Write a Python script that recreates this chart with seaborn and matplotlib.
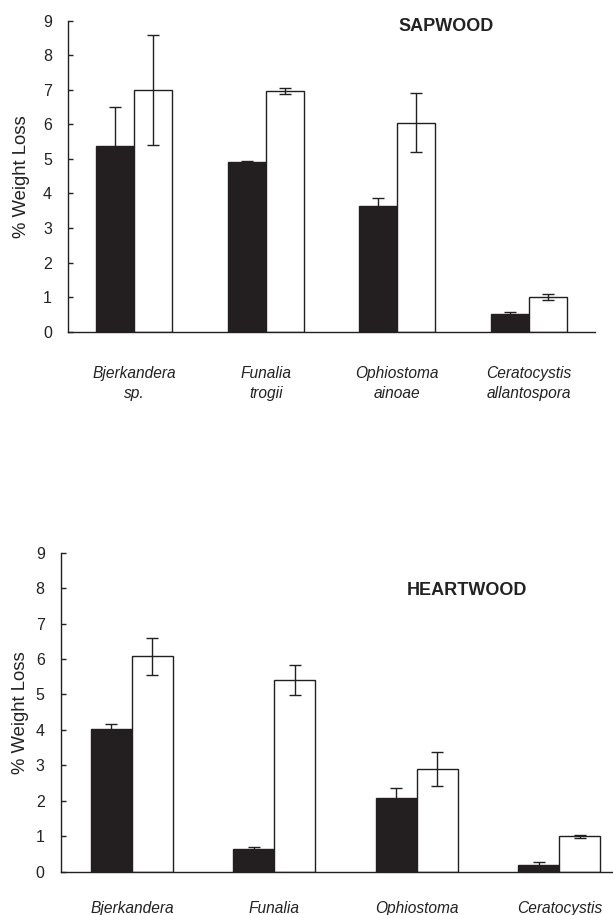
import numpy as np
import pandas as pd
import matplotlib
matplotlib.use("Agg")
import matplotlib.pyplot as plt
import seaborn as sns

# ---- data ----
species = ["Bjerkandera", "Funalia", "Ophiostoma", "Ceratocystis"]
sap_labels = ["Bjerkandera\nsp.", "Funalia\ntrogii", "Ophiostoma\nainoae", "Ceratocystis\nallantospora"]
heart_labels = ["Bjerkandera", "Funalia", "Ophiostoma", "Ceratocystis"]
series = ["Series 1", "Series 2"]

sap_dark = [5.37, 4.90, 3.65, 0.51]
sap_dark_err = [1.14, 0.03, 0.22, 0.07]
sap_white = [6.99, 6.97, 6.05, 1.00]
sap_white_err = [1.59, 0.09, 0.85, 0.08]

heart_dark = [4.03, 0.65, 2.09, 0.20]
heart_dark_err = [0.14, 0.06, 0.28, 0.07]
heart_white = [6.08, 5.41, 2.89, 1.00]
heart_white_err = [0.52, 0.42, 0.48, 0.04]

yticks = list(range(10))

DARK = "#231f20"

sns.set_theme(style="ticks")
plt.rcParams["font.family"] = ["Liberation Sans", "DejaVu Sans"]

fig = plt.figure(figsize=(6.13, 9.15), dpi=100)
ax_top = fig.add_axes([68 / 613, 1 - 331.7 / 915, 527 / 613, 311.0 / 915])
ax_bot = fig.add_axes([60.7 / 613, 1 - 871.7 / 915, (613 - 60.7) / 613, 319.0 / 915])


def draw(ax, dark, dark_err, white, white_err, labels, title, title_x, title_y,
         xpad, xlim, ylab_x):
    df = pd.DataFrame({
        "species": species * 2,
        "series": [series[0]] * 4 + [series[1]] * 4,
        "value": dark + white,
    })
    sns.barplot(data=df, x="species", y="value", hue="series",
                order=species, hue_order=series,
                palette=[DARK, "white"], saturation=1, width=0.575,
                errorbar=None, edgecolor=DARK, linewidth=1.0,
                legend=False, ax=ax)
    conts = list(ax.containers)[:2]
    for cont, errs in zip(conts, [dark_err, white_err]):
        for bar, e in zip(cont, errs):
            ax.errorbar(bar.get_x() + bar.get_width() / 2, bar.get_height(),
                        yerr=e, fmt="none", ecolor=DARK, elinewidth=1.0,
                        capsize=4.5, capthick=1.0, zorder=5)
    ax.set_xlim(*xlim)
    ax.set_ylim(0, 9)
    ax.set_yticks(yticks)
    ax.set_yticklabels([str(t) for t in yticks])
    ax.set_xticks(range(len(species)))
    ax.set_xticklabels(labels, style="italic", fontsize=11.2, linespacing=1.4,
                       color="#222222")
    ax.tick_params(axis="x", length=0, pad=xpad)
    ax.tick_params(axis="y", direction="in", length=3.6, width=1.0,
                   labelsize=11.5, pad=11.5, colors="#222222")
    ax.set_xlabel("")
    ax.set_ylabel("% Weight Loss", fontsize=13.3, color="#222222")
    ax.yaxis.set_label_coords(ylab_x, 0.5)
    for s in ["top", "right"]:
        ax.spines[s].set_visible(False)
    for s in ["left", "bottom"]:
        ax.spines[s].set_linewidth(1.0)
        ax.spines[s].set_color(DARK)
    ax.text(title_x, title_y, title, ha="center", va="center", fontsize=13,
            fontweight="bold", color="#222222")


draw(ax_top, sap_dark, sap_dark_err, sap_white, sap_white_err, sap_labels,
     "SAPWOOD", 2.37, 8.83, 25, (-0.5, 3.5), -0.072)
draw(ax_bot, heart_dark, heart_dark_err, heart_white, heart_white_err,
     heart_labels, "HEARTWOOD", 2.35, 7.94, 21, (-0.5, 3.376), -0.058)

fig.savefig("out.png", dpi=100, facecolor="white")
